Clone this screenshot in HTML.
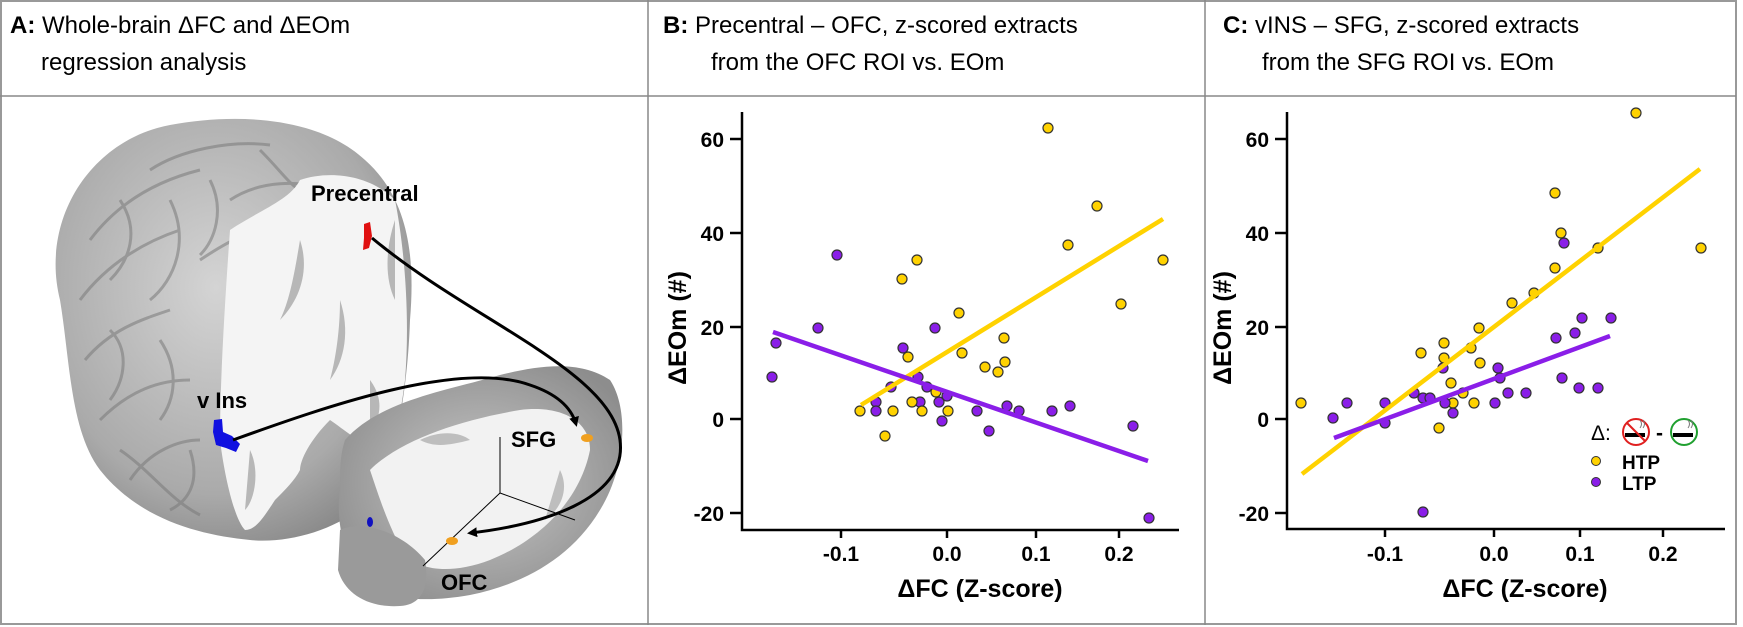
<!DOCTYPE html>
<html><head><meta charset="utf-8"><style>
html,body{margin:0;padding:0;background:#fff;}
svg{display:block;}
text{font-family:"Liberation Sans",Arial,sans-serif;}
</style></head><body>
<svg width="1743" height="627" viewBox="0 0 1743 627" xmlns="http://www.w3.org/2000/svg">
<defs>
<radialGradient id="g1" cx="0.45" cy="0.4" r="0.7">
<stop offset="0" stop-color="#d4d4d4"/><stop offset="0.7" stop-color="#aaaaaa"/><stop offset="1" stop-color="#808080"/>
</radialGradient>
<radialGradient id="g2" cx="0.5" cy="0.5" r="0.6">
<stop offset="0" stop-color="#c8c8c8"/><stop offset="1" stop-color="#8d8d8d"/>
</radialGradient>
<marker id="ah" markerWidth="10" markerHeight="10" refX="7" refY="5" orient="auto" markerUnits="userSpaceOnUse">
<path d="M0,0 L10,5 L0,10 Z" fill="#000"/>
</marker>
</defs>
<rect x="0" y="0" width="1743" height="627" fill="#fff"/>
<rect x="1" y="1" width="1735" height="623" fill="none" stroke="#999" stroke-width="2"/>
<line x1="0" y1="96" x2="1736" y2="96" stroke="#888" stroke-width="1.5"/>
<line x1="648" y1="0" x2="648" y2="625" stroke="#888" stroke-width="1.5"/>
<line x1="1205" y1="0" x2="1205" y2="625" stroke="#888" stroke-width="1.5"/>

<g font-size="24" fill="#000">
<text x="10" y="33"><tspan font-weight="bold">A:</tspan> Whole-brain ΔFC and ΔEOm</text>
<text x="41" y="70">regression analysis</text>
<text x="663" y="33"><tspan font-weight="bold">B:</tspan>  Precentral – OFC, z-scored extracts</text>
<text x="711" y="70">from the OFC ROI vs. EOm</text>
<text x="1223" y="33"><tspan font-weight="bold">C:</tspan>  vINS – SFG, z-scored extracts</text>
<text x="1262" y="70">from the SFG ROI vs. EOm</text>
</g>

<g>
<path d="M60,300 C40,220 90,140 170,125 C240,112 320,118 365,160 C410,200 415,260 410,320 C408,380 400,420 390,470 C370,520 300,545 250,540 C200,535 140,520 100,470 C70,430 70,360 60,300 Z" fill="url(#g1)"/>
<g fill="none" stroke="#7a7a7a" stroke-width="3" opacity="0.55">
<path d="M90,240 C120,200 160,180 200,170"/><path d="M80,300 C110,260 150,240 180,230"/>
<path d="M85,360 C110,330 140,320 170,310"/><path d="M100,420 C130,390 160,380 190,380"/>
<path d="M130,480 C150,450 180,440 200,440"/><path d="M150,170 C180,150 230,140 270,145"/>
<path d="M230,200 C260,180 300,180 330,190"/><path d="M200,260 C230,240 250,230 270,230"/>
<path d="M120,200 C140,230 130,260 110,280"/><path d="M170,200 C190,240 175,280 150,300"/>
<path d="M210,180 C225,210 215,240 200,255"/><path d="M260,150 C280,170 290,185 300,190"/>
<path d="M110,330 C130,350 125,380 110,400"/><path d="M160,340 C180,370 175,400 160,420"/>
<path d="M190,450 C200,480 190,500 170,510"/><path d="M120,450 C150,470 170,500 200,515"/>
</g>
<path d="M230,230 C260,210 290,200 300,180 C330,170 370,175 395,200 C405,250 410,320 405,380 C400,420 395,440 385,450 C360,445 345,430 330,420 C310,440 300,460 300,470 C295,480 285,490 275,500 C262,520 255,530 245,530 C235,520 225,480 220,440 C220,380 225,300 230,230 Z" fill="#f4f4f4"/>
<g fill="#a8a8a8" opacity="0.8">
<path d="M300,240 C310,270 300,300 280,320 C290,300 295,270 300,240 Z"/>
<path d="M340,300 C350,330 345,360 330,380 C338,350 340,320 340,300 Z"/>
<path d="M370,380 C385,400 380,420 370,430 Z"/>
<path d="M250,450 C260,470 255,500 245,510 Z"/>
<path d="M395,220 C385,250 385,280 395,300 Z"/>
</g>
<path d="M345,440 C380,400 450,390 500,375 C540,365 580,360 610,380 C630,410 625,470 600,510 C570,560 520,585 470,595 C430,602 400,600 375,590 C345,575 335,520 340,490 C340,470 340,455 345,440 Z" fill="url(#g2)"/>
<path d="M370,470 C400,440 460,420 520,410 C560,405 590,420 590,450 C580,500 540,540 490,560 C450,575 420,570 405,555 C390,530 380,500 370,470 Z" fill="#f2f2f2"/>
<g fill="#b0b0b0" opacity="0.8">
<path d="M420,440 C440,430 460,432 470,440 C450,445 435,448 420,440 Z"/>
<path d="M560,470 C570,490 560,510 545,520 Z"/>
</g>
<path d="M340,530 C360,520 400,530 425,560 C430,590 420,605 400,606 C370,608 345,595 338,570 Z" fill="#9a9a9a"/>
<line x1="500" y1="437" x2="500" y2="493" stroke="#000" stroke-width="1"/>
<line x1="500" y1="493" x2="575" y2="520" stroke="#000" stroke-width="1"/>
<line x1="500" y1="493" x2="423" y2="566" stroke="#000" stroke-width="1"/>
<path d="M364,224 L370,222 L372,236 L369,248 L363,250 L364,238 Z" fill="#e01010"/>
<path d="M214,420 L222,419 L223,432 L232,436 L240,444 L236,452 L226,448 L216,445 L213,432 Z" fill="#1010e0"/>
<ellipse cx="587" cy="438" rx="6" ry="4" fill="#f0a020"/>
<ellipse cx="452" cy="541" rx="6" ry="4" fill="#f0a020"/>
<ellipse cx="370" cy="522" rx="3" ry="5" fill="#1010c0"/>
<path d="M372,238 C470,320 610,370 620,440 C628,500 540,525 470,533" fill="none" stroke="#000" stroke-width="3" marker-end="url(#ah)"/>
<path d="M233,440 C330,405 460,360 530,385 C560,395 572,410 576,424" fill="none" stroke="#000" stroke-width="3" marker-end="url(#ah)"/>
<g font-weight="bold" font-size="22" fill="#000">
<text x="311" y="201">Precentral</text>
<text x="197" y="408">v Ins</text>
<text x="511" y="447">SFG</text>
<text x="441" y="590">OFC</text>
</g>
</g>

<g stroke="#000" stroke-width="2.5" fill="none">
<polyline points="742,112 742,530 1179,530"/>
<line x1="730" y1="139" x2="742" y2="139"/><line x1="730" y1="233" x2="742" y2="233"/>
<line x1="730" y1="327" x2="742" y2="327"/><line x1="730" y1="419" x2="742" y2="419"/>
<line x1="730" y1="513" x2="742" y2="513"/>
<line x1="841" y1="530" x2="841" y2="538"/><line x1="947" y1="530" x2="947" y2="538"/>
<line x1="1036" y1="530" x2="1036" y2="538"/><line x1="1119" y1="530" x2="1119" y2="538"/>
</g>
<g font-weight="bold" font-size="21" fill="#000">
<g text-anchor="end"><text x="724" y="147">60</text><text x="724" y="241">40</text><text x="724" y="335">20</text><text x="724" y="427">0</text><text x="724" y="521">-20</text></g>
<g text-anchor="middle"><text x="841" y="561">-0.1</text><text x="947" y="561">0.0</text><text x="1036" y="561">0.1</text><text x="1119" y="561">0.2</text></g>
</g>
<text x="980" y="597" text-anchor="middle" font-size="25" font-weight="bold">ΔFC (Z-score)</text>
<text transform="translate(686,328) rotate(-90)" text-anchor="middle" font-size="25" font-weight="bold">ΔEOm (#)</text>

<g stroke="#333" stroke-width="1.2" fill="#8a1ee8">
<circle cx="772" cy="377" r="5"/><circle cx="776" cy="343" r="5"/><circle cx="818" cy="328" r="5"/><circle cx="837" cy="255" r="5"/>
<circle cx="876" cy="402" r="5"/><circle cx="876" cy="411" r="5"/><circle cx="891" cy="387" r="5"/><circle cx="903" cy="348" r="5"/>
<circle cx="918" cy="377" r="5"/><circle cx="920" cy="402" r="5"/><circle cx="927" cy="387" r="5"/><circle cx="935" cy="328" r="5"/>
<circle cx="939" cy="402" r="5"/><circle cx="942" cy="421" r="5"/><circle cx="947" cy="396" r="5"/><circle cx="977" cy="411" r="5"/>
<circle cx="989" cy="431" r="5"/><circle cx="1007" cy="406" r="5"/><circle cx="1019" cy="411" r="5"/><circle cx="1052" cy="411" r="5"/>
<circle cx="1070" cy="406" r="5"/><circle cx="1133" cy="426" r="5"/><circle cx="1149" cy="518" r="5"/>
</g>
<g stroke="#333" stroke-width="1.2" fill="#ffd200">
<circle cx="860" cy="411" r="5"/><circle cx="885" cy="436" r="5"/><circle cx="893" cy="411" r="5"/><circle cx="902" cy="279" r="5"/>
<circle cx="908" cy="357" r="5"/><circle cx="912" cy="402" r="5"/><circle cx="917" cy="260" r="5"/><circle cx="922" cy="411" r="5"/>
<circle cx="936" cy="392" r="5"/><circle cx="948" cy="411" r="5"/><circle cx="959" cy="313" r="5"/><circle cx="962" cy="353" r="5"/>
<circle cx="985" cy="367" r="5"/><circle cx="998" cy="372" r="5"/><circle cx="1004" cy="338" r="5"/><circle cx="1005" cy="362" r="5"/>
<circle cx="1048" cy="128" r="5"/><circle cx="1068" cy="245" r="5"/><circle cx="1097" cy="206" r="5"/><circle cx="1121" cy="304" r="5"/>
<circle cx="1163" cy="260" r="5"/>
</g>
<line x1="861" y1="405" x2="1163" y2="219" stroke="#ffd200" stroke-width="4.5"/>
<line x1="773" y1="332" x2="1148" y2="461" stroke="#8a1ee8" stroke-width="4.5"/>

<g stroke="#000" stroke-width="2.5" fill="none">
<polyline points="1287,112 1287,529 1725,529"/>
<line x1="1275" y1="139" x2="1287" y2="139"/><line x1="1275" y1="233" x2="1287" y2="233"/>
<line x1="1275" y1="327" x2="1287" y2="327"/><line x1="1275" y1="419" x2="1287" y2="419"/>
<line x1="1275" y1="513" x2="1287" y2="513"/>
<line x1="1385" y1="529" x2="1385" y2="537"/><line x1="1494" y1="529" x2="1494" y2="537"/>
<line x1="1580" y1="529" x2="1580" y2="537"/><line x1="1663" y1="529" x2="1663" y2="537"/>
</g>
<g font-weight="bold" font-size="21" fill="#000">
<g text-anchor="end"><text x="1269" y="147">60</text><text x="1269" y="241">40</text><text x="1269" y="335">20</text><text x="1269" y="427">0</text><text x="1269" y="521">-20</text></g>
<g text-anchor="middle"><text x="1385" y="561">-0.1</text><text x="1494" y="561">0.0</text><text x="1580" y="561">0.1</text><text x="1663" y="561">0.2</text></g>
</g>
<text x="1525" y="597" text-anchor="middle" font-size="25" font-weight="bold">ΔFC (Z-score)</text>
<text transform="translate(1231,328) rotate(-90)" text-anchor="middle" font-size="25" font-weight="bold">ΔEOm (#)</text>

<g stroke="#333" stroke-width="1.2" fill="#ffd200">
<circle cx="1301" cy="403" r="5"/><circle cx="1421" cy="353" r="5"/><circle cx="1444" cy="343" r="5"/><circle cx="1444" cy="358" r="5"/>
<circle cx="1451" cy="383" r="5"/><circle cx="1453" cy="403" r="5"/><circle cx="1439" cy="428" r="5"/><circle cx="1463" cy="393" r="5"/>
<circle cx="1471" cy="348" r="5"/><circle cx="1479" cy="328" r="5"/><circle cx="1480" cy="363" r="5"/><circle cx="1474" cy="403" r="5"/>
<circle cx="1512" cy="303" r="5"/><circle cx="1534" cy="293" r="5"/><circle cx="1555" cy="193" r="5"/><circle cx="1561" cy="233" r="5"/>
<circle cx="1555" cy="268" r="5"/><circle cx="1598" cy="248" r="5"/><circle cx="1636" cy="113" r="5"/><circle cx="1701" cy="248" r="5"/>
</g>
<g stroke="#333" stroke-width="1.2" fill="#8a1ee8">
<circle cx="1333" cy="418" r="5"/><circle cx="1347" cy="403" r="5"/><circle cx="1385" cy="403" r="5"/><circle cx="1385" cy="423" r="5"/>
<circle cx="1414" cy="393" r="5"/><circle cx="1423" cy="398" r="5"/><circle cx="1430" cy="398" r="5"/><circle cx="1443" cy="368" r="5"/>
<circle cx="1445" cy="403" r="5"/><circle cx="1453" cy="413" r="5"/><circle cx="1498" cy="368" r="5"/><circle cx="1500" cy="378" r="5"/>
<circle cx="1495" cy="403" r="5"/><circle cx="1508" cy="393" r="5"/><circle cx="1526" cy="393" r="5"/><circle cx="1556" cy="338" r="5"/>
<circle cx="1562" cy="378" r="5"/><circle cx="1564" cy="243" r="5"/><circle cx="1575" cy="333" r="5"/><circle cx="1579" cy="388" r="5"/>
<circle cx="1582" cy="318" r="5"/><circle cx="1598" cy="388" r="5"/><circle cx="1611" cy="318" r="5"/><circle cx="1423" cy="512" r="5"/>
</g>
<line x1="1302" y1="474" x2="1700" y2="169" stroke="#ffd200" stroke-width="4.5"/>
<line x1="1334" y1="438" x2="1610" y2="336" stroke="#8a1ee8" stroke-width="4.5"/>

<text x="1591" y="440" font-size="21">Δ:</text>
<circle cx="1636" cy="432" r="13" fill="#fff" stroke="#e02020" stroke-width="2"/>
<rect x="1625" y="433" width="20" height="4" fill="#000"/>
<path d="M1640,428 q3,-4 0,-8 M1643,428 q3,-4 0,-8" stroke="#777" stroke-width="1" fill="none"/>
<line x1="1627" y1="423" x2="1645" y2="441" stroke="#e02020" stroke-width="2"/>
<text x="1656" y="440" font-size="21" font-weight="bold">-</text>
<circle cx="1684" cy="432" r="13" fill="#fff" stroke="#20a030" stroke-width="2"/>
<rect x="1673" y="433" width="20" height="4" fill="#000"/>
<path d="M1688,428 q3,-4 0,-8 M1691,428 q3,-4 0,-8" stroke="#777" stroke-width="1" fill="none"/>
<circle cx="1596" cy="461" r="4.5" fill="#ffd200" stroke="#333" stroke-width="1"/>
<text x="1622" y="469" font-size="19" font-weight="bold">HTP</text>
<circle cx="1596" cy="482" r="4.5" fill="#8a1ee8" stroke="#333" stroke-width="1"/>
<text x="1622" y="490" font-size="19" font-weight="bold">LTP</text>
</svg>
</body></html>
